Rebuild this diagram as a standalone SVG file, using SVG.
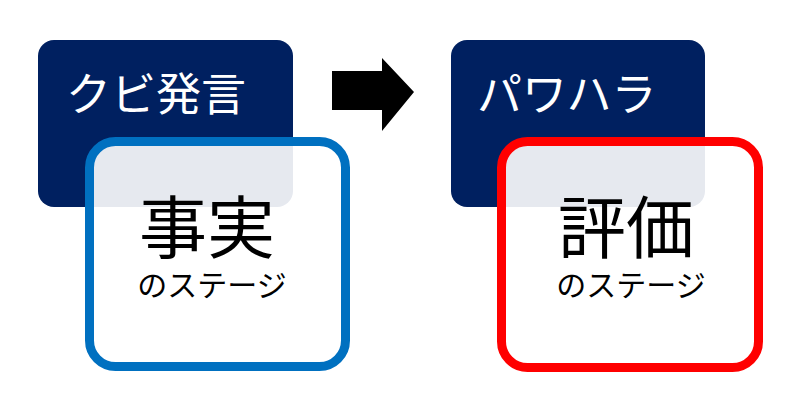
<svg xmlns="http://www.w3.org/2000/svg" width="800" height="420" viewBox="0 0 800 420">
<style>
.dark{fill:#002060}
.stage{fill:#ffffff;fill-opacity:0.9;stroke-width:9}
.lbl{font-family:"Noto Sans CJK JP","Noto Sans",sans-serif;fill:#ffffff;font-size:45px}
.big{font-family:"Noto Sans CJK JP","Noto Sans",sans-serif;fill:#000000;font-size:68px;text-anchor:middle}
.small{font-size:30px}
</style>
<rect width="800" height="420" fill="#ffffff"/>
<g id="kubi">
<rect class="dark" x="38" y="40" width="255" height="167" rx="16"/>
<text class="lbl" x="66" y="111">クビ発言</text>
</g>
<g id="jijitsu">
<rect class="stage" x="89.5" y="141.5" width="256" height="225" rx="26" stroke="#0070c0"/>
<text class="big" x="207" y="253">事実<tspan class="small" x="212" y="296">のステージ</tspan></text>
</g>
<g id="pawahara">
<rect class="dark" x="451" y="40" width="254" height="167" rx="16"/>
<text class="lbl" x="477" y="111">パワハラ</text>
</g>
<g id="hyoka">
<rect class="stage" x="501.5" y="141.5" width="257" height="226" rx="26" stroke="#ff0000"/>
<text class="big" x="626" y="253">評価<tspan class="small" x="631" y="296">のステージ</tspan></text>
</g>
<g id="connectors">
<polygon points="332,71 382,71 382,58 414,92 382,131 382,110 332,110" fill="#000000"/>
</g>
</svg>
